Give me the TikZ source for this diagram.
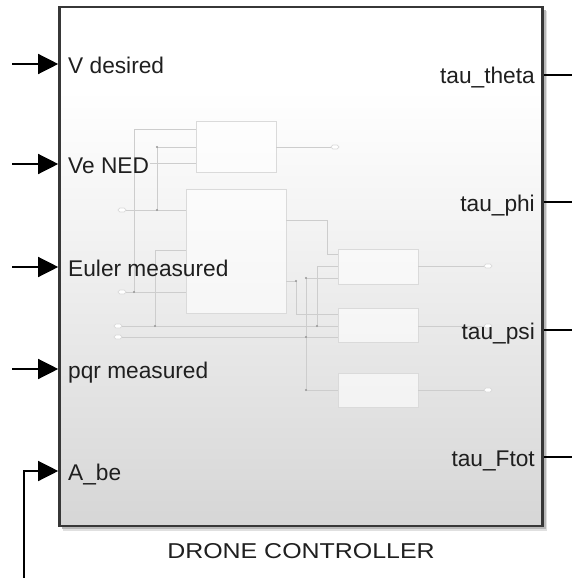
\documentclass[tikz,border=0pt]{standalone}
\usepackage{fontspec}
\setmainfont{Liberation Sans}
\usetikzlibrary{arrows.meta}

\definecolor{shBot}{RGB}{214,214,214}
\definecolor{shMid}{RGB}{229,229,229}
\definecolor{shLow}{RGB}{245,245,245}
\definecolor{frameC}{RGB}{55,55,55}
\definecolor{wireC}{RGB}{205,205,205}
\definecolor{blkC}{RGB}{218,218,218}
\definecolor{dotC}{RGB}{150,150,150}

\pgfdeclareverticalshading{ctrlshade}{100bp}{color(0bp)=(shBot); color(25bp)=(shBot); color(40bp)=(shMid); color(56bp)=(shLow); color(67bp)=(white); color(100bp)=(white)}

\tikzset{
  ctrlframe/.style={draw=frameC, line width=2.6pt, shading=ctrlshade, inner sep=0pt},
  sig/.style={line width=1.3pt, black},
  insig/.style={sig, -{Triangle[length=20pt,width=20pt]}},
  lbl/.style={font=\fontsize{22.7}{26}\selectfont, inner sep=0pt, text=black!88},
  wire/.style={draw=wireC, line width=0.9pt},
  subblk/.style={draw=blkC, line width=0.9pt, fill=white, fill opacity=0.6, inner sep=0pt},
  term/.style={draw=blkC, line width=0.7pt, fill=white, rounded corners=1.8pt, minimum width=8pt, minimum height=4pt, inner sep=0pt},
  jdot/.style={fill=dotC, circle, inner sep=0pt, minimum size=2.2pt}
}

\begin{document}
\begin{tikzpicture}[x=1pt, y=-1pt]
\useasboundingbox (0,0) rectangle (572,578);
\fill[white] (0,0) rectangle (572,578);

% soft drop shadow of the subsystem block
\fill[black!12] (63,11) rectangle (547,531);
\fill[black!28] (62,10) rectangle (545.5,529);

% subsystem block
\node[ctrlframe, minimum width=483pt, minimum height=519pt] (ctrl) at (301,266.5) {};

% ---- faint contents of the subsystem ----
\node[subblk, minimum width=80pt, minimum height=51pt] (bA) at (236,146.5) {};
\node[subblk, minimum width=100pt, minimum height=124pt] (bB) at (236,251) {};
\node[subblk, minimum width=80pt, minimum height=35pt] (bC) at (378,266.5) {};
\node[subblk, minimum width=80pt, minimum height=34pt] (bD) at (378,325) {};
\node[subblk, minimum width=80pt, minimum height=34pt] (bE) at (378,390) {};

\node[term] (p1) at (122,210) {};
\node[term] (p2) at (122,292) {};
\node[term] (p3) at (118,326) {};
\node[term] (p4) at (118,337) {};
\node[term] (q1) at (335,147) {};
\node[term] (q2) at (488,266) {};
\node[term] (q3) at (488,326) {};
\node[term] (q4) at (488,390) {};

\coordinate (j1) at (134,292);
\coordinate (j2) at (157,210);
\coordinate (j3) at (157,147);
\coordinate (j4) at (155,326);
\coordinate (j5) at (317,326);
\coordinate (j6) at (306,337);
\coordinate (j7) at (306,278);
\coordinate (j8) at (306,390);
\coordinate (j9) at (296,281);
\coordinate (ve) at (150,163);

\draw[wire] (p2) -- (bB.west |- p2);
\draw[wire] (j1) |- (bA.west |- 0,129);
\draw[wire] (p1) -- (bB.west |- p1);
\draw[wire] (j2) -- (j3) -- (bA.west |- j3);
\draw[wire] (ve) -- (bA.west |- ve);
\draw[wire] (bA.east |- q1) -- (q1);
\draw[wire] (j4) |- (bB.west |- 0,250);
\draw[wire] (p3) -- (bD.west |- p3);
\draw[wire] (j5) |- (bC.west |- 0,266);
\draw[wire] (p4) -- (bD.west |- p4);
\draw[wire] (j7) -- (j8);
\draw[wire] (j7) -- (bC.west |- j7);
\draw[wire] (j8) -- (bE.west |- j8);
\draw[wire] (bB.east |- 0,220) -| (327,254) -- (bC.west |- 0,254);
\draw[wire] (bB.east |- j9) -- (j9) |- (bD.west |- 0,314);
\draw[wire] (bC.east |- q2) -- (q2);
\draw[wire] (bD.east |- q3) -- (q3);
\draw[wire] (bE.east |- q4) -- (q4);

\foreach \j in {j1,j2,j3,j4,j5,j6,j7,j8,j9}
  \node[jdot] at (\j) {};

% ---- input ports ----
\coordinate (i1) at (12,64);
\coordinate (i2) at (12,164);
\coordinate (i3) at (12,267);
\coordinate (i4) at (12,369);
\coordinate (i5s) at (24,578);
\coordinate (i5) at (24,471);

\draw[insig] (i1) -- (ctrl.west |- i1);
\draw[insig] (i2) -- (ctrl.west |- i2);
\draw[insig] (i3) -- (ctrl.west |- i3);
\draw[insig] (i4) -- (ctrl.west |- i4);
\draw[insig] (i5s) -- (i5) -- (ctrl.west |- i5);

\node[lbl, anchor=base west] (l1) at (68,73.5) {V desired};
\node[lbl, anchor=base west] (l2) at (68,173.5) {Ve NED};
\node[lbl, anchor=base west] (l3) at (68,276.5) {Euler measured};
\node[lbl, anchor=base west] (l4) at (68,378.5) {pqr measured};
\node[lbl, anchor=base west] (l5) at (68,480.5) {A\_be};

% ---- output ports ----
\coordinate (o1) at (572,75);
\coordinate (o2) at (572,202);
\coordinate (o3) at (572,330);
\coordinate (o4) at (572,457);

\draw[sig] (ctrl.east |- o1) -- (o1);
\draw[sig] (ctrl.east |- o2) -- (o2);
\draw[sig] (ctrl.east |- o3) -- (o3);
\draw[sig] (ctrl.east |- o4) -- (o4);

\node[lbl, anchor=base east] (r1) at (535,84) {tau\_theta};
\node[lbl, anchor=base east] (r2) at (535,211) {tau\_phi};
\node[lbl, anchor=base east] (r3) at (535,339) {tau\_psi};
\node[lbl, anchor=base east] (r4) at (535,466) {tau\_Ftot};

% block name
\node[anchor=base, inner sep=0pt, text=black!88] (name) at (301,558) {\scalebox{1.16}[1]{\fontsize{21.5}{26}\selectfont DRONE CONTROLLER}};
\end{tikzpicture}
\end{document}
